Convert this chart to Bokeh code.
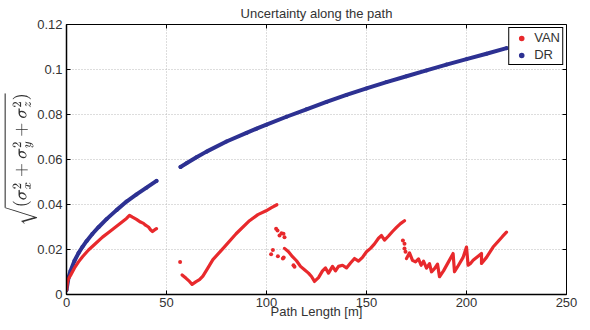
from bokeh.plotting import figure
from bokeh.models import FixedTicker, Legend, LegendItem
from bokeh.embed import file_html
from bokeh.resources import INLINE
import math

# ---------------- data ----------------
xticks = [0, 50, 100, 150, 200, 250]
yticks = [0, 0.02, 0.04, 0.06, 0.08, 0.1, 0.12]
ytick_labels = ["0", "0.02", "0.04", "0.06", "0.08", "0.1", "0.12"]

# DR (dead reckoning) - two segments
dr1_x = [0, 1, 2, 4, 6, 8, 10, 13, 16, 20, 25, 30, 35, 40, 45]
dr1_y = [0.002, 0.0075, 0.0105, 0.015, 0.0184, 0.0212, 0.0237, 0.027, 0.0299,
         0.0335, 0.0375, 0.0413, 0.0445, 0.0475, 0.0505]
dr2_x = [57, 60, 65, 70, 80, 90, 95, 100, 110, 120, 130, 140, 150, 160, 170,
         180, 190, 200, 210, 220]
dr2_y = [0.0567, 0.0583, 0.061, 0.0635, 0.068, 0.0718, 0.0737, 0.0755, 0.079,
         0.0823, 0.0856, 0.0887, 0.0916, 0.0944, 0.097, 0.0996, 0.1022, 0.1046,
         0.107, 0.1095]

# VAN - four continuous stretches plus isolated points
van1_x = [0, 0.5, 1, 2, 4, 6, 8, 11, 14, 18, 22, 26, 30, 31.5, 33, 35, 37,
          38.5, 39.5, 41, 42, 43, 44, 45]
van1_y = [0.002, 0.0055, 0.007, 0.0085, 0.0118, 0.0145, 0.0168, 0.0198, 0.0222,
          0.0255, 0.0282, 0.031, 0.0338, 0.0352, 0.0344, 0.0334, 0.0322, 0.0316,
          0.0308, 0.0300, 0.0288, 0.0280, 0.0287, 0.0293]
van2_x = [57.8, 59.8, 61.5, 62.8, 64.8, 66.5, 68.2, 70.5, 73.2, 78.2, 84.8,
          91.5, 95.7, 99.8, 102.5, 105.2]
van2_y = [0.0087, 0.0072, 0.0058, 0.0045, 0.0057, 0.0066, 0.0082, 0.0115,
          0.0155, 0.0204, 0.027, 0.0328, 0.0355, 0.0372, 0.0386, 0.0399]
van3_x = [109, 111, 113, 115, 117, 119, 121, 122.5, 124, 126, 128, 129.5, 131,
          133, 134.5, 136, 138, 140, 142, 144, 146, 148, 150, 152, 154, 156,
          157.5, 159, 161, 163, 165, 167, 169]
van3_y = [0.0205, 0.019, 0.0168, 0.015, 0.0125, 0.011, 0.0095, 0.008, 0.0058,
          0.0075, 0.0105, 0.0118, 0.0095, 0.0125, 0.0105, 0.0125, 0.013, 0.0118,
          0.014, 0.016, 0.0148, 0.0165, 0.019, 0.0205, 0.0225, 0.025, 0.0262,
          0.0242, 0.026, 0.028, 0.0298, 0.0315, 0.0328]
van4_x = [170, 171.5, 173, 174.5, 176, 177.3, 178.5, 180, 181.5, 182.5, 184,
          185.5, 186.5, 188.5, 191, 193.3, 194, 196, 198.3, 200, 200.8, 202,
          203.3, 205.5, 207.5, 207.5, 210, 213.3, 216, 218, 220]
van4_y = [0.016, 0.0185, 0.0152, 0.0145, 0.0158, 0.013, 0.0148, 0.0117, 0.0137,
          0.0101, 0.0115, 0.0135, 0.0079, 0.0105, 0.0145, 0.0182, 0.0101, 0.013,
          0.0165, 0.0211, 0.013, 0.0138, 0.0152, 0.0168, 0.0182, 0.0138, 0.0165,
          0.0211, 0.0238, 0.0258, 0.0277]
van_pts_x = [56.8, 102.3, 103.2, 104.8, 105.5, 106.5, 107.5, 108.5, 109, 105.7,
             108.2, 108.6, 113.5, 114, 168.2, 169, 169, 169.5]
van_pts_y = [0.0145, 0.0179, 0.0198, 0.0292, 0.0285, 0.0262, 0.0272, 0.027,
             0.0255, 0.017, 0.016, 0.0165, 0.013, 0.0123, 0.0240, 0.0226, 0.0205,
             0.0190]

RED = "#E8292C"
BLUE = "#2D3192"
FONT = "Liberation Sans"
TXT = "#333333"

p = figure(frame_width=500, frame_height=270, x_range=(0, 250), y_range=(0, 0.12),
           output_backend="svg", toolbar_location=None,
           title="Uncertainty along the path",
           min_border_left=59, min_border_right=15,
           min_border_top=17, min_border_bottom=27)

p.title.align = "center"
p.title.text_font = FONT
p.title.text_font_size = "13px"
p.title.text_font_style = "normal"
p.title.text_color = TXT
p.title.standoff = 7

p.background_fill_color = "white"
p.border_fill_color = "white"
p.outline_line_color = "black"
p.outline_line_width = 1
p.outline_line_alpha = 1

for ax in (p.xaxis, p.yaxis):
    ax.major_tick_in = 4
    ax.major_tick_out = 0
    ax.minor_tick_line_color = None
    ax.axis_line_color = "black"
    ax.axis_line_width = 1.5
    ax.major_tick_line_color = "black"
    ax.major_label_text_font = FONT
    ax.major_label_text_font_size = "13px"
    ax.major_label_text_color = TXT
    ax.axis_label_text_font = FONT
    ax.axis_label_text_font_style = "normal"
    ax.axis_label_text_color = TXT

p.xaxis.ticker = FixedTicker(ticks=xticks)
p.yaxis.ticker = FixedTicker(ticks=yticks)
p.yaxis.major_label_overrides = {t: s for t, s in zip(yticks, ytick_labels)}
p.xaxis.major_label_standoff = 3
p.yaxis.major_label_standoff = 4
p.xaxis.axis_label = "Path Length [m]"
p.xaxis.axis_label_text_font_size = "13px"
p.xaxis.axis_label_standoff = -6
p.yaxis.axis_label = r"$$\sqrt{(\sigma_x^2+\sigma_y^2+\sigma_z^2)}$$"
p.yaxis.axis_label_text_font_size = "14px"
p.yaxis.axis_label_standoff = -3

for g in (p.xgrid, p.ygrid):
    g.grid_line_color = "#bbbbbb"
    g.grid_line_dash = "1 2"
    g.grid_line_width = 1
p.xgrid.ticker = FixedTicker(ticks=xticks)
p.ygrid.ticker = FixedTicker(ticks=yticks)

# inward ticks on top and right edges of the box
p.scatter(xticks, [p.y_range.end] * len(xticks), marker="dash", angle=math.pi / 2,
          size=8, line_color="black", line_width=1)
p.scatter([p.x_range.end] * len(yticks), yticks, marker="dash", size=8,
          line_color="black", line_width=1)

# DR
for xs, ys in ((dr1_x, dr1_y), (dr2_x, dr2_y)):
    p.line(xs, ys, line_color=BLUE, line_width=4, line_join="round", line_cap="round")
dr_pts = p.scatter(dr1_x + dr2_x, dr1_y + dr2_y, marker="circle", size=4,
                   fill_color=BLUE, line_color=None)

# VAN
for xs, ys in ((van1_x, van1_y), (van2_x, van2_y), (van3_x, van3_y), (van4_x, van4_y)):
    p.line(xs, ys, line_color=RED, line_width=3.2, line_join="round", line_cap="round")
van_pts = p.scatter(van_pts_x, van_pts_y, marker="circle", size=4,
                    fill_color=RED, line_color=None)

legend = Legend(items=[LegendItem(label="VAN", renderers=[van_pts]),
                       LegendItem(label="DR", renderers=[dr_pts])],
                location="top_right")
legend.label_text_font = FONT
legend.label_text_font_size = "13px"
legend.label_text_color = TXT
legend.border_line_color = "black"
legend.border_line_width = 1
legend.border_line_alpha = 1
legend.background_fill_alpha = 1
legend.margin = 3
legend.padding = 2
legend.spacing = 2
legend.label_height = 14
legend.glyph_height = 14
legend.glyph_width = 20
legend.label_standoff = 3
p.add_layout(legend)

open("out.html", "w").write(file_html(p, INLINE))
